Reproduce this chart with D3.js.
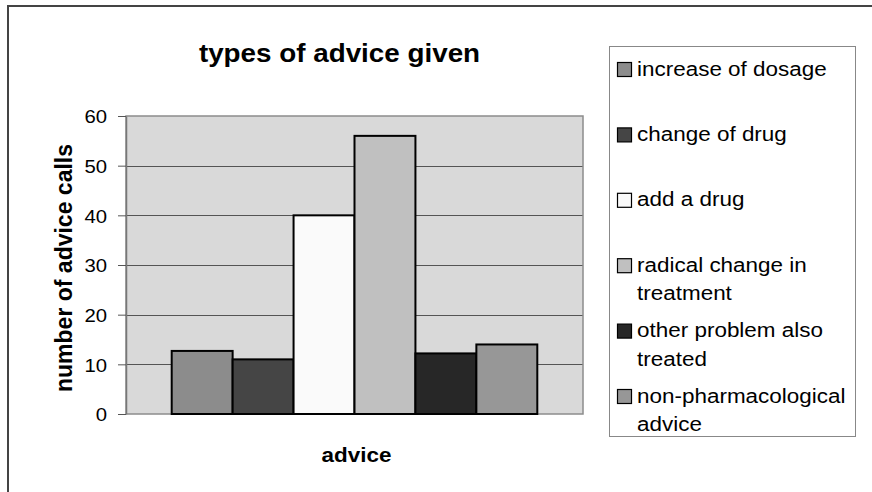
<!DOCTYPE html>
<html>
<head>
<meta charset="utf-8">
<script src="https://cdn.jsdelivr.net/npm/d3@7"></script>
<style>
  html, body { margin: 0; padding: 0; background: #ffffff; }
  svg { display: block; }
  text { font-family: "Liberation Sans", Arial, sans-serif; fill: #000; }
</style>
</head>
<body>
<svg id="chart" width="872" height="492"></svg>
<script>
// ---- data ----
const categories = ["advice"];
const seriesNames = [
  ["increase of dosage"],
  ["change of drug"],
  ["add a drug"],
  ["radical change in", "treatment"],
  ["other problem also", "treated"],
  ["non-pharmacological", "advice"]
];
const seriesValues = [12.7, 11, 40, 56, 12.2, 14];
const seriesColors = ["#8c8c8c", "#454545", "#fafafa", "#c0c0c0", "#272727", "#979797"];
const yTicks = [0, 10, 20, 30, 40, 50, 60];
const titleText = "types of advice given";
const xTitle = "advice";
const yTitle = "number of advice calls";

// ---- layout ----
const S = 1.07; // slight horizontal text stretch as in the reference
const plot = { left: 126, right: 583, top: 116, bottom: 414 };
const svg = d3.select("#chart");

// outer frame (top and left lines)
svg.append("line").attr("x1", 8).attr("x2", 872).attr("y1", 6).attr("y2", 6)
  .attr("stroke", "#444").attr("stroke-width", 2);
svg.append("line").attr("x1", 8).attr("x2", 8).attr("y1", 5).attr("y2", 492)
  .attr("stroke", "#444").attr("stroke-width", 2);

const x0 = d3.scaleBand().domain(categories).range([plot.left, plot.right])
  .paddingInner(0).paddingOuter(0.125);
const x1 = d3.scaleBand().domain(d3.range(seriesValues.length))
  .range([0, x0.bandwidth()]).padding(0);
const y = d3.scaleLinear().domain([0, 60]).range([plot.bottom, plot.top]);

// plot background
svg.append("rect").attr("x", plot.left).attr("y", plot.top)
  .attr("width", plot.right - plot.left).attr("height", plot.bottom - plot.top)
  .attr("fill", "#d9d9d9");

// gridlines
svg.append("g").selectAll("line").data(yTicks.filter(d => d > 0 && d < 60)).join("line")
  .attr("x1", plot.left).attr("x2", plot.right)
  .attr("y1", d => Math.round(y(d)) + 0.5).attr("y2", d => Math.round(y(d)) + 0.5)
  .attr("stroke", "#555").attr("stroke-width", 1);

// plot border
svg.append("rect").attr("x", plot.left).attr("y", plot.top)
  .attr("width", plot.right - plot.left).attr("height", plot.bottom - plot.top)
  .attr("fill", "none").attr("stroke", "#8c8c8c").attr("stroke-width", 1.5);

// bars
svg.append("g").selectAll("rect").data(seriesValues).join("rect")
  .attr("x", (d, i) => x0("advice") + x1(i))
  .attr("width", x1.bandwidth())
  .attr("y", d => y(d))
  .attr("height", d => y(0) - y(d))
  .attr("fill", (d, i) => seriesColors[i])
  .attr("stroke", "#000").attr("stroke-width", 2);

// y axis
const yAxis = svg.append("g").attr("transform", `translate(${plot.left},0)`)
  .call(d3.axisLeft(y).tickValues(yTicks).tickSize(8).tickSizeOuter(0).tickFormat(d3.format("d")));
yAxis.select(".domain").attr("stroke", "#777").attr("stroke-width", 1.5);
yAxis.selectAll(".tick line").attr("stroke", "#555");
yAxis.selectAll(".tick text")
  .attr("x", -19 / S).attr("dy", "0.36em")
  .attr("transform", `scale(${S},1)`)
  .style("font-family", '"Liberation Sans", Arial, sans-serif')
  .style("font-size", "19px").attr("fill", "#000");

// title
svg.append("text").attr("transform", `translate(339.5,62) scale(${S},1)`)
  .attr("text-anchor", "middle").style("font-size", "26px").style("font-weight", "bold")
  .text(titleText);

// x title
svg.append("text").attr("transform", `translate(356.5,462) scale(${S},1)`)
  .attr("text-anchor", "middle").style("font-size", "21px").style("font-weight", "bold")
  .text(xTitle);

// y title
svg.append("text").attr("transform", "translate(71.5,268) rotate(-90)")
  .attr("text-anchor", "middle").style("font-size", "23px").style("font-weight", "bold")
  .text(yTitle);

// legend
const lg = { x: 609.5, y: 46.5, w: 246, h: 390 };
svg.append("rect").attr("x", lg.x).attr("y", lg.y).attr("width", lg.w).attr("height", lg.h)
  .attr("fill", "#fff").attr("stroke", "#888").attr("stroke-width", 1);
const rowY = d3.scaleLinear().domain([0, seriesNames.length - 1]).range([69, 396]);
const items = svg.append("g").selectAll("g").data(seriesNames).join("g")
  .attr("transform", (d, i) => `translate(0,${rowY(i)})`);
items.append("rect").attr("x", 617.5).attr("y", -6.5).attr("width", 14).attr("height", 14)
  .attr("fill", (d, i) => seriesColors[i]).attr("stroke", "#000").attr("stroke-width", 1.2);
items.each(function(lines) {
  const g = d3.select(this);
  lines.forEach((ln, k) => {
    g.append("text").attr("transform", `translate(637,${6.5 + k * 28.5}) scale(${S},1)`)
      .style("font-size", "21px").text(ln);
  });
});
</script>
</body>
</html>
